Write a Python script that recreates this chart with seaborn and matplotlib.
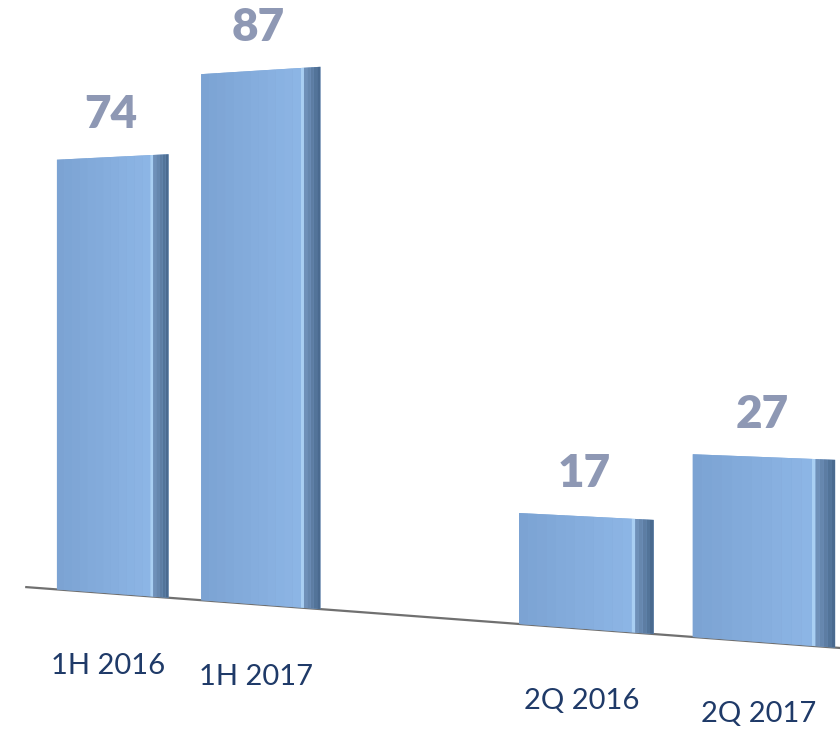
import numpy as np
import pandas as pd
import seaborn as sns
import matplotlib.pyplot as plt
from matplotlib.colors import to_rgb
from matplotlib.transforms import Transform

periods = ["1H 2016", "1H 2017", "2Q 2016", "2Q 2017"]
values = [74, 87, 17, 27]
# blank slot keeps the gap between the half-year and quarter groups
slots = ["1H 2016", "1H 2017", " ", "2Q 2016", "2Q 2017"]


class Perspective(Transform):
    """Tilts the baseline and widens things to the right, like the 3D view."""
    input_dims = 2
    output_dims = 2

    def transform_non_affine(self, xy):
        xy = np.asarray(xy, dtype=float)
        x, y = xy[:, 0], xy[:, 1]
        xs = x + 0.0344 * x ** 2
        ys = -1.814 * xs + y * (1 + 0.0407 * x)
        return np.column_stack([xs, ys])


def blend(c1, c2, t):
    a, b = np.array(to_rgb(c1)), np.array(to_rgb(c2))
    return tuple(a + (b - a) * t)


sns.set_theme(style="white")
plt.rcParams["font.family"] = ["Lato", "DejaVu Sans"]

df = pd.DataFrame({"period": periods, "value": values})

fig = plt.figure(figsize=(8.4, 7.35), dpi=100)
ax = fig.add_axes([0, 0, 1, 1])
sns.barplot(data=df, x="period", y="value", order=slots, color="#84abda",
            saturation=1, width=0.78, linewidth=0, ax=ax)

# shade each bar: gradient front face, highlight edge, dark side face
fronts = list(ax.patches)
for p in fronts:
    x0, w, h = p.get_x(), p.get_width(), p.get_height()
    front_w = w * 0.84
    n = 12
    for i in range(n):
        ax.bar(x0 + front_w * i / n, h, width=front_w / n, align="edge",
               color=blend("#7ca3d3", "#8cb5e5", i / (n - 1)), linewidth=0)
    ax.bar(x0 + front_w, h, width=w * 0.025, align="edge", color="#a9cff3", linewidth=0)
    side_x = x0 + front_w + w * 0.025
    side_w = w - front_w - w * 0.025
    for i in range(5):
        ax.bar(side_x + side_w * i / 5, h, width=side_w / 5, align="edge",
               color=blend("#6f90b8", "#4a6a8f", i / 4), linewidth=0)

warp = Perspective() + ax.transData
for p in ax.patches:
    p.set_transform(warp)

ax.plot([-0.62, 4.9], [0, 0], color="#707070", lw=1.6, transform=warp,
        solid_capstyle="butt", zorder=0.5)

for pos, name, val in zip([slots.index(s) for s in periods], periods, values):
    ax.annotate(str(val), xy=(pos, val), xycoords=warp, xytext=(-1, 21),
                textcoords="offset points", ha="center", va="baseline",
                fontsize=33, fontweight="heavy", color="#8e98b4")
    ax.annotate(name, xy=(pos, 0), xycoords=warp, xytext=(-3, -52),
                textcoords="offset points", ha="center", va="center",
                fontsize=21, color="#1f3a68")

ax.set_xlim(-0.7827, 5.087)
ax.set_ylim(-23.98, 100.6)
ax.set_axis_off()

fig.savefig("out.png", dpi=100, facecolor="white")
